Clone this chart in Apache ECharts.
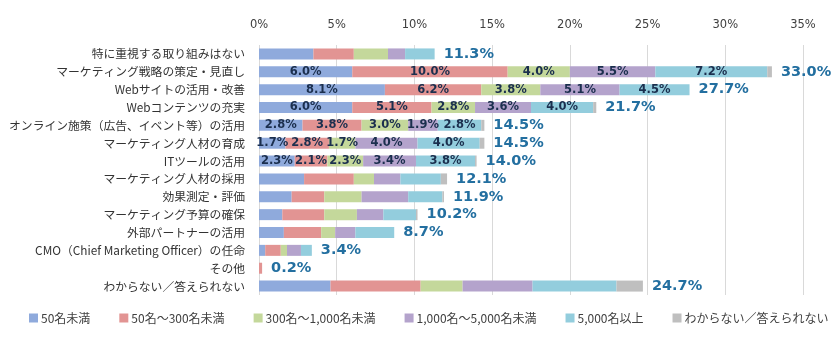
<!DOCTYPE html>
<html>
<head>
<meta charset="utf-8">
<script src="https://cdn.jsdelivr.net/npm/echarts@6/dist/echarts.min.js"></script>
<style>
  html, body { margin: 0; padding: 0; background: #fff; }
  #chart { width: 840px; height: 347px; }
</style>
</head>
<body>
<div id="chart"></div>
<script>
// Priority initiatives, broken down by company size (%)
const categories = [
  '特に重視する取り組みはない',
  'マーケティング戦略の策定・見直し',
  'Webサイトの活用・改善',
  'Webコンテンツの充実',
  'オンライン施策（広告、イベント等）の活用',
  'マーケティング人材の育成',
  'ITツールの活用',
  'マーケティング人材の採用',
  '効果測定・評価',
  'マーケティング予算の確保',
  '外部パートナーの活用',
  'CMO（Chief Marketing Officer）の任命',
  'その他',
  'わからない／答えられない'
];

const seriesNames = ['50名未満', '50名～300名未満', '300名～1,000名未満', '1,000名～5,000名未満', '5,000名以上', 'わからない／答えられない'];

const under50      = [3.5, 6.0, 8.1, 6.0, 2.8, 1.7, 2.3, 2.9, 2.1, 1.5, 1.6, 0.4, 0,   4.6];
const from50to300  = [2.6, 10.0, 6.2, 5.1, 3.8, 2.8, 2.1, 3.2, 2.1, 2.7, 2.4, 1.0, 0.2, 5.8];
const from300to1k  = [2.2, 4.0, 3.8, 2.8, 3.0, 1.7, 2.3, 1.3, 2.4, 2.1, 0.9, 0.4, 0,   2.7];
const from1kto5k   = [1.1, 5.5, 5.1, 3.6, 1.9, 4.0, 3.4, 1.7, 3.0, 1.7, 1.3, 0.9, 0,   4.5];
const over5k       = [1.9, 7.2, 4.5, 4.0, 2.8, 4.0, 3.8, 2.6, 2.2, 2.1, 2.5, 0.7, 0,   5.4];
const unknownSize  = [0,   0.3, 0,   0.2, 0.2, 0.3, 0.1, 0.4, 0.1, 0.1, 0,   0,   0,   1.7];

const totals = [11.3, 33.0, 27.7, 21.7, 14.5, 14.5, 14.0, 12.1, 11.9, 10.2, 8.7, 3.4, 0.2, 24.7];

// rows whose segments carry their own value labels
const labeledRows = [1, 2, 3, 4, 5, 6];

const xTicks = [0, 5, 10, 15, 20, 25, 30, 35];

const colors = ['#8FAADC', '#E29493', '#C4D89B', '#B4A3CC', '#93CDDD', '#BFBFBF'];
const valueSets = [under50, from50to300, from300to1k, from1kto5k, over5k, unknownSize];

const FONT = '"Noto Sans CJK JP", "Noto Sans", sans-serif';
const NUM_FONT = 'Verdana, "DejaVu Sans", sans-serif';

const series = valueSets.map((vals, si) => {
  const isLast = si === valueSets.length - 1;
  return {
    name: seriesNames[si],
    type: 'bar',
    stack: 'total',
    barWidth: 11,
    itemStyle: { color: colors[si] },
    emphasis: { disabled: true },
    data: vals.map((v, i) => {
      const item = { value: v };
      if (!isLast && labeledRows.includes(i)) {
        item.label = {
          show: true,
          position: 'inside',
          formatter: p => p.value.toFixed(1) + '%',
          color: '#1B2F4E',
          fontWeight: 'bold',
          fontSize: 11.5,
          fontFamily: NUM_FONT
        };
      }
      return item;
    }),
    label: isLast ? {
      show: true,
      position: 'right',
      distance: 9,
      formatter: p => totals[p.dataIndex].toFixed(1) + '%',
      color: '#236FA0',
      fontWeight: 'bold',
      fontSize: 14.5,
      fontFamily: NUM_FONT
    } : { show: false }
  };
});

const chart = echarts.init(document.getElementById('chart'), null, { renderer: 'canvas' });
chart.setOption({
  animation: false,
  textStyle: { fontFamily: FONT },
  grid: { left: 259, right: 37, top: 45, bottom: 52, containLabel: false },
  xAxis: {
    type: 'value',
    position: 'top',
    min: xTicks[0],
    max: xTicks[xTicks.length - 1],
    interval: 5,
    axisLine: { show: false },
    axisTick: { show: false },
    axisLabel: { formatter: '{value}%', color: '#404040', fontSize: 11.5, margin: 14, fontFamily: NUM_FONT },
    splitLine: { lineStyle: { color: '#D9D9D9', width: 1 } }
  },
  yAxis: {
    type: 'category',
    inverse: true,
    data: categories,
    axisLine: { show: false },
    axisTick: { show: false },
    axisLabel: { color: '#333333', fontSize: 11.8, margin: 14, fontFamily: FONT }
  },
  legend: {
    bottom: 18,
    left: 24,
    itemWidth: 9,
    itemHeight: 9,
    itemGap: 29,
    icon: 'rect',
    textStyle: { color: '#404040', fontSize: 12, fontFamily: FONT, padding: [0, 0, 0, -2] },
    data: seriesNames
  },
  series: series
});
</script>
</body>
</html>
